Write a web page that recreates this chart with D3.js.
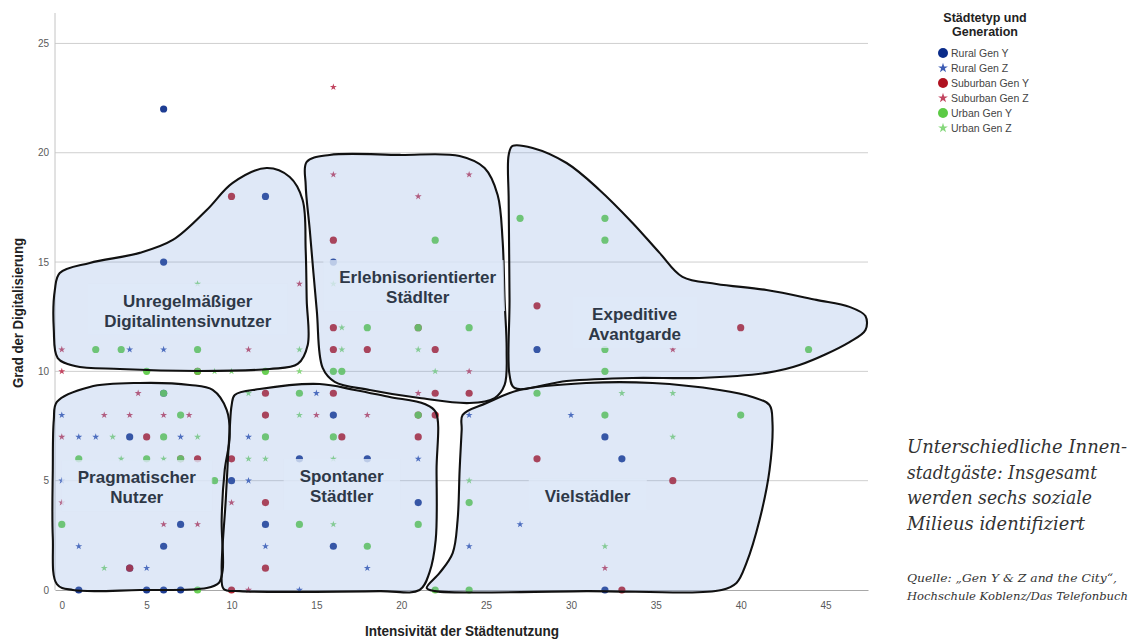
<!DOCTYPE html>
<html>
<head>
<meta charset="utf-8">
<script src="https://cdn.jsdelivr.net/npm/d3@7"></script>
<style>
  body { margin: 0; background: #fff; }
  svg { display: block; }
</style>
</head>
<body>
<div id="chart"></div>
<script>
// Achsen
const xTicks = [0, 5, 10, 15, 20, 25, 30, 35, 40, 45];
const yTicks = [0, 5, 10, 15, 20, 25];

// Serien (x = Intensität, y = Digitalisierung)
const seriesNames = ["Rural Gen Y", "Rural Gen Z", "Suburban Gen Y", "Suburban Gen Z", "Urban Gen Y", "Urban Gen Z"];
const ruralGenY = [[6,22],[12,18],[6,15],[16,15],[16,8],[14,6],[18,6],[10,5],[21,4],[12,3],[16,2],[6,9],[4,7],[7,3],[6,2],[4,1],[1,0],[5,0],[6,0],[7,0],[28,11],[32,7],[33,6],[32,0]];
const ruralGenZ = [[4,11],[6,11],[15,9],[11,7],[21,6],[11,5],[12,2],[18,1],[0,8],[1,7],[2,7],[7,7],[0,5],[1,2],[5,1],[24,8],[30,8],[27,3],[24,2],[14,0]];
const suburbanGenY = [[10,18],[16,16],[16,12],[21,12],[16,11],[18,11],[22,11],[16,9],[22,9],[24,9],[12,9],[12,8],[21,8],[22,8],[16.5,7],[21,7],[10,6],[12,4],[12,1],[10,0],[5,7],[8,6],[7,6],[8,10],[4,1],[28,13],[40,12],[28,6],[36,5],[33,0]];
const suburbanGenZ = [[16,23],[16,19],[21,18],[24,19],[14,14],[0,11],[11,11],[0,10],[24,10],[21,9],[15,8],[18,8],[10,4],[11,0],[4.5,9],[2.5,8],[4,8],[6,8],[7.5,8],[0,7],[0,4],[6,3],[8,3],[36,11],[32,1]];
const urbanGenY = [[22,16],[2,11],[3.5,11],[8,11],[5,10],[12,10],[8,10],[18,12],[24,12],[21,12],[16,10],[16.5,10],[14,9],[12,7],[16,7],[21,3],[14,3],[18,2],[7,8],[6,7],[1,6],[5,6],[7,6],[9,5],[0,3],[8,0],[6,9],[21,8],[32,10],[28,9],[32,8],[40,8],[24,4],[22,0],[24,0],[27,17],[32,17],[32,16],[32,11],[44,11]];
const urbanGenZ = [[8,14],[14,11],[9,10],[10,10],[14,10],[16,14],[16.5,12],[16.5,11],[21,11],[22,10],[11,9],[14,8],[11,6],[12,6],[16,6],[16,3],[3,7],[8,7],[3.5,6],[6,6],[2.5,1],[33,9],[36,9],[36,7],[24,5],[32,2]];

// Milieus: Umrisse in Datenkoordinaten, Beschriftung (Mitte x, erste Grundlinie y)
const milieuLabels = [
  ["Unregelmäßiger", "Digitalintensivnutzer"],
  ["Erlebnisorientierter", "Städlter"],
  ["Expeditive", "Avantgarde"],
  ["Pragmatischer", "Nutzer"],
  ["Spontaner", "Städtler"],
  ["Vielstädler"]
];
const milieuLabelPos = [[7.42, 12.95], [20.97, 14.04], [33.75, 12.35], [4.42, 4.89], [16.49, 4.94], [30.98, 4.03]];
const milieuOutlines = [
  [[-0.12,14.5],[1.65,14.96],[4.59,15.42],[6.54,16.01],[8.54,17.38],[10.07,18.62],[12.07,19.3],[13.43,18.89],[14.19,17.84],[14.37,15.55],[14.43,13.27],[14.49,11.21],[13.9,10.34],[12.25,10.11],[8.13,10.02],[3.42,10.11],[0.77,10.25],[-0.24,10.61],[-0.47,11.89],[-0.41,13.72]],
  [[14.43,19.58],[15.78,19.9],[19.91,19.9],[23.44,19.85],[24.91,19.3],[25.68,18.07],[25.97,16.01],[26.09,13.27],[26.21,10.98],[26.09,9.38],[25.5,8.78],[24.03,8.55],[21.08,8.78],[18.14,9.15],[16.08,9.52],[15.37,10.16],[15.02,12.81],[14.61,16.47],[14.37,18.53]],
  [[26.56,20.31],[27.74,20.22],[29.74,19.53],[31.68,18.3],[33.63,16.79],[35.22,15.42],[36.57,14.32],[38.57,14.0],[41.52,13.72],[44.46,13.27],[46.41,12.95],[47.35,12.53],[47.35,11.89],[46.41,11.34],[43.46,10.29],[41.52,9.93],[37.57,9.7],[33.63,9.7],[29.74,9.56],[26.68,9.24],[26.38,9.84],[26.38,13.27],[26.33,17.84],[26.33,19.9]],
  [[-0.29,8.6],[1.65,9.29],[4.59,9.47],[7.54,9.38],[8.89,9.15],[9.72,8.23],[9.89,7.0],[9.6,5.49],[9.42,3.2],[9.48,0.91],[9.25,0.32],[8.54,0.09],[4.59,0.0],[0.65,0.0],[-0.29,0.27],[-0.53,2.42],[-0.53,5.49],[-0.47,7.78]],
  [[10.19,8.92],[11.66,9.19],[15.19,9.42],[17.26,9.15],[19.32,8.83],[21.38,8.51],[22.03,8.14],[22.08,5.49],[22.03,2.29],[21.67,0.82],[21.08,0.0],[18.73,-0.05],[10.48,-0.05],[9.54,0.05],[9.42,0.91],[9.66,4.12],[9.89,7.32],[10.01,8.46]],
  [[23.62,8.01],[25.03,8.55],[26.97,9.15],[30.92,9.47],[34.81,9.47],[38.75,9.15],[40.69,8.83],[41.7,8.46],[41.87,7.69],[41.7,5.49],[41.11,3.2],[40.34,1.24],[39.75,0.32],[38.87,0.0],[30.92,-0.05],[21.97,-0.05],[21.5,0.09],[22.26,0.78],[23.03,1.69],[23.32,3.2],[23.44,5.49],[23.56,7.32]]
];

const caption = ["Unterschiedliche Innen-", "stadtgäste: Insgesamt", "werden sechs soziale", "Milieus identifiziert"];
const source = ["Quelle: „Gen Y & Z and the City“,", "Hochschule Koblenz/Das Telefonbuch"];

const createChart = () => {
    const W = 1129, H = 639;
    const svg = d3.select("#chart").append("svg").attr("width", W).attr("height", H);

    const x = d3.scaleLinear().domain([-0.4, 47.5]).range([55, 868]);
    const y = d3.scaleLinear().domain([0, 26.3]).range([590, 15]);

    const colors = ["#0b2c8a", "#3d5cb4", "#b01220", "#c24560", "#5ccb45", "#86d87c"];
    const isStar = [false, true, false, true, false, true];
    const allSeries = [ruralGenY, ruralGenZ, suburbanGenY, suburbanGenZ, urbanGenY, urbanGenZ];

    // Gitterlinien
    svg.append("g").selectAll("line")
        .data(yTicks.filter(d => d > 0))
        .join("line")
        .attr("x1", x.range()[0]).attr("x2", x.range()[1])
        .attr("y1", d => y(d)).attr("y2", d => y(d))
        .attr("stroke", "#cfcfcf").attr("stroke-width", 1);

    svg.append("line")
        .attr("x1", x.range()[0]).attr("x2", x.range()[0])
        .attr("y1", 13).attr("y2", y(0))
        .attr("stroke", "#c4c4c4");

    // Achsen
    const gy = svg.append("g").attr("transform", `translate(${x.range()[0]},0)`)
        .call(d3.axisLeft(y).tickValues(yTicks).tickSize(0).tickPadding(6));
    const gx = svg.append("g").attr("transform", `translate(0,${y(0)})`)
        .call(d3.axisBottom(x).tickValues(xTicks).tickSize(0).tickPadding(12));
    gy.select(".domain").remove();
    gx.select(".domain").attr("stroke", "#a8a8a8").attr("stroke-width", 1.2);
    svg.selectAll(".tick text")
        .attr("fill", "#5a5a5a")
        .style("font-family", "Liberation Sans, Arial, sans-serif")
        .style("font-size", "10px");

    // Punkte
    const starGen = d3.symbol().type(d3.symbolStar).size(15);
    allSeries.forEach((data, i) => {
        const g = svg.append("g");
        if (isStar[i]) {
            g.selectAll("path").data(data).join("path")
                .attr("d", starGen)
                .attr("transform", d => `translate(${x(d[0])},${y(d[1])})`)
                .attr("fill", colors[i]);
        } else {
            g.selectAll("circle").data(data).join("circle")
                .attr("cx", d => x(d[0])).attr("cy", d => y(d[1]))
                .attr("r", 3.6)
                .attr("fill", colors[i])
                .attr("fill-opacity", 0.92);
        }
    });

    // Milieus
    const outline = d3.line()
        .x(d => x(d[0])).y(d => y(d[1]))
        .curve(d3.curveCatmullRomClosed.alpha(0.5));

    const defs = svg.append("defs");
    milieuOutlines.forEach((pts, i) => {
        defs.append("clipPath").attr("id", "clip" + i)
            .append("path").attr("d", outline(pts));
    });

    svg.append("g").selectAll("path")
        .data(milieuOutlines).join("path")
        .attr("d", outline)
        .attr("fill", "#7fa5e0")
        .attr("fill-opacity", 0.25);

    const labelG = svg.append("g");
    milieuLabels.forEach((lines, i) => {
        const [lx, ly] = milieuLabelPos[i];
        const g = labelG.append("g");
        const bg = g.append("rect");
        const t = g.append("text")
            .attr("x", x(lx)).attr("y", y(ly))
            .attr("text-anchor", "middle")
            .attr("fill", "#2e3847")
            .style("font-family", "Liberation Sans, Arial, sans-serif")
            .style("font-weight", "bold")
            .style("font-size", "17px");
        lines.forEach((s, k) => {
            t.append("tspan").attr("x", x(lx)).attr("dy", k === 0 ? 0 : 20).text(s);
        });
        const bb = t.node().getBBox();
        bg.attr("x", bb.x - 16).attr("y", bb.y - 8)
            .attr("width", bb.width + 32).attr("height", bb.height + 12)
            .attr("fill", "#dfe8f7").attr("fill-opacity", 0.8)
            .attr("clip-path", `url(#clip${i})`);
    });

    svg.append("g").selectAll("path")
        .data(milieuOutlines).join("path")
        .attr("d", outline)
        .attr("fill", "none")
        .attr("stroke", "#111")
        .attr("stroke-width", 2.1);

    labelG.raise();

    // Achsentitel
    svg.append("text")
        .attr("x", 462).attr("y", 636)
        .attr("text-anchor", "middle")
        .attr("fill", "#222")
        .attr("textLength", 194).attr("lengthAdjust", "spacingAndGlyphs")
        .style("font-family", "Liberation Sans Narrow, Liberation Sans, Arial, sans-serif")
        .style("font-weight", "bold")
        .style("font-size", "14px")
        .text("Intensivität der Städtenutzung");

    svg.append("text")
        .attr("transform", "translate(23,313) rotate(-90)")
        .attr("text-anchor", "middle")
        .attr("fill", "#222")
        .attr("textLength", 150).attr("lengthAdjust", "spacingAndGlyphs")
        .style("font-family", "Liberation Sans Narrow, Liberation Sans, Arial, sans-serif")
        .style("font-weight", "bold")
        .style("font-size", "14px")
        .text("Grad der Digitalisierung");

    // Legende
    const leg = svg.append("g");
    leg.append("text")
        .attr("x", 985).attr("y", 22)
        .attr("text-anchor", "middle")
        .attr("fill", "#222")
        .style("font-family", "Liberation Sans, Arial, sans-serif")
        .style("font-weight", "bold").style("font-size", "12.5px")
        .selectAll("tspan").data(["Städtetyp und", "Generation"]).join("tspan")
        .attr("x", 985).attr("dy", (d, k) => k === 0 ? 0 : 14)
        .text(d => d);

    const legStar = d3.symbol().type(d3.symbolStar).size(30);
    const item = leg.selectAll("g.item").data(seriesNames).join("g")
        .attr("class", "item")
        .attr("transform", (d, i) => `translate(943,${53 + i * 15})`);
    item.each(function(d, i) {
        const s = d3.select(this);
        if (isStar[i]) s.append("path").attr("d", legStar).attr("fill", colors[i]);
        else s.append("circle").attr("r", 5).attr("fill", colors[i]);
    });
    item.append("text")
        .attr("x", 8).attr("dy", "0.35em")
        .attr("fill", "#444")
        .style("font-family", "Liberation Sans, Arial, sans-serif")
        .style("font-size", "10.5px")
        .text(d => d);

    // Bildunterschrift
    const capW = [220, 190, 185, 178];
    svg.append("g").selectAll("text").data(caption).join("text")
        .attr("x", 907).attr("y", (d, i) => 453 + i * 25.5)
        .attr("fill", "#333")
        .attr("textLength", (d, i) => capW[i]).attr("lengthAdjust", "spacingAndGlyphs")
        .style("font-family", "DejaVu Serif, serif")
        .style("font-style", "italic")
        .style("font-size", "18px")
        .text(d => d);

    const srcW = [210, 221];
    svg.append("g").selectAll("text").data(source).join("text")
        .attr("x", 907).attr("y", (d, i) => 582 + i * 18)
        .attr("fill", "#333")
        .attr("textLength", (d, i) => srcW[i]).attr("lengthAdjust", "spacingAndGlyphs")
        .style("font-family", "DejaVu Serif, serif")
        .style("font-style", "italic")
        .style("font-size", "10.5px")
        .text(d => d);
};

createChart();
</script>
</body>
</html>
